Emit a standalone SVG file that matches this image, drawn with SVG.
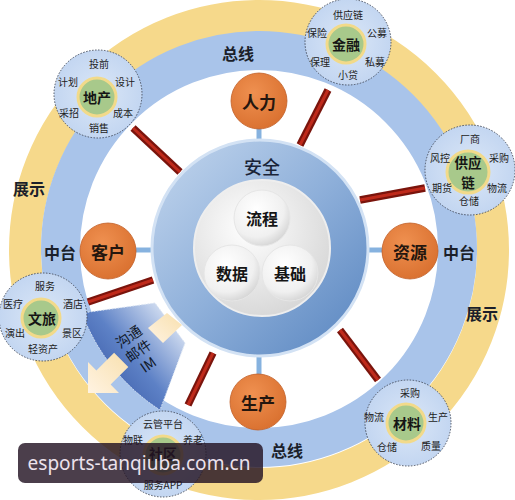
<svg xmlns="http://www.w3.org/2000/svg" width="515" height="500" viewBox="0 0 515 500">
<defs>
<style>
text{font-family:"Noto Sans CJK SC","Noto Sans",sans-serif;text-anchor:middle;dominant-baseline:central;fill:#1b1f2a}
.rl{font-size:16px;font-weight:700}
.sub{font-size:10px;fill:#222}
.nbg{fill:url(#gNode);stroke:#4a5262;stroke-width:1;stroke-dasharray:1.5 1.5}
.ncore{fill:#a8c98b;stroke:#f2da8a;stroke-width:3}
.nt{font-size:14px;font-weight:700;fill:#151515}
.org{fill:url(#gOrange);stroke:#c2612a;stroke-width:0.8}
.ot{font-size:17px;font-weight:700;fill:#24160e}
.so{stroke:#7a140c;stroke-width:7.5}
.si{stroke:#bf2a1b;stroke-width:3}
.lk{stroke:#86b2df;stroke-width:5}
.inner{fill:url(#gInner);stroke:#e6e6e6;stroke-width:1}
.ct{font-size:16px;font-weight:700;fill:#151515}
.pale{fill:url(#gPale)}
</style>
<radialGradient id="gNode" cx="0.5" cy="0.5" r="0.5"><stop offset="0" stop-color="#dbe7f7"/><stop offset="1" stop-color="#c3d6f1"/></radialGradient>
<radialGradient id="gOrange" cx="0.4" cy="0.35" r="0.7"><stop offset="0" stop-color="#ef9050"/><stop offset="1" stop-color="#d9702f"/></radialGradient>
<linearGradient id="gCore" x1="0" y1="0" x2="1" y2="1"><stop offset="0" stop-color="#c4d7ee"/><stop offset="0.5" stop-color="#8fb0da"/><stop offset="1" stop-color="#5784bf"/></linearGradient>
<radialGradient id="gWhite" cx="0.4" cy="0.35" r="0.7"><stop offset="0" stop-color="#ffffff"/><stop offset="1" stop-color="#d6d6d6"/></radialGradient>
<radialGradient id="gInner" cx="0.4" cy="0.35" r="0.7"><stop offset="0" stop-color="#ffffff"/><stop offset="0.7" stop-color="#f0f0f0"/><stop offset="1" stop-color="#d2d2d2"/></radialGradient>
<linearGradient id="gWedge" x1="0.2" y1="0.9" x2="1" y2="0.2"><stop offset="0" stop-color="#3a5aa6"/><stop offset="0.45" stop-color="#5d81c6"/><stop offset="1" stop-color="#dfe8f6"/></linearGradient>
<linearGradient id="gPale" x1="0" y1="1" x2="1" y2="0"><stop offset="0" stop-color="#fff3e2"/><stop offset="1" stop-color="#f8e0ae"/></linearGradient>
</defs>

<g id="rings">
<circle cx="259" cy="250" r="234" fill="none" stroke="#f6d98b" stroke-width="32"/>
<circle cx="259" cy="249" r="198" fill="none" stroke="#a9c4ea" stroke-width="40"/>
<circle cx="259" cy="249" r="177.5" fill="none" stroke="#ffffff" stroke-width="3"/>
</g>

<g id="connectors">
<line class="so" x1="133" y1="128" x2="180" y2="172"/><line class="si" x1="133" y1="128" x2="180" y2="172"/>
<line class="so" x1="328" y1="90" x2="300" y2="145"/><line class="si" x1="328" y1="90" x2="300" y2="145"/>
<line class="so" x1="360" y1="200" x2="425" y2="188"/><line class="si" x1="360" y1="200" x2="425" y2="188"/>
<line class="so" x1="88" y1="302" x2="153" y2="280"/><line class="si" x1="88" y1="302" x2="153" y2="280"/>
<line class="so" x1="340" y1="330" x2="378" y2="380"/><line class="si" x1="340" y1="330" x2="378" y2="380"/>
<line class="so" x1="213" y1="353" x2="188" y2="405"/><line class="si" x1="213" y1="353" x2="188" y2="405"/>
<line class="lk" x1="259" y1="128" x2="259" y2="142"/>
<line class="lk" x1="136" y1="250" x2="154" y2="250"/>
<line class="lk" x1="366" y1="250" x2="382" y2="250"/>
<line class="lk" x1="259" y1="354" x2="259" y2="375"/>
</g>

<g id="core">
<circle cx="260" cy="248" r="108" fill="url(#gCore)" stroke="#d3e2f4" stroke-width="3"/>
<text x="262" y="166" style="font-size:18px;font-weight:500;fill:#1a2438">安全</text>
<circle cx="262" cy="248" r="68" fill="url(#gWhite)" stroke="#eeeeee" stroke-width="2"/>
</g>
<g id="n-liucheng"><circle class="inner" cx="262" cy="218" r="28"/><text class="ct" x="262" y="218">流程</text></g>
<g id="n-shuju"><circle class="inner" cx="232" cy="273" r="28"/><text class="ct" x="232" y="273">数据</text></g>
<g id="n-jichu"><circle class="inner" cx="290" cy="273" r="28"/><text class="ct" x="290" y="273">基础</text></g>

<g id="comm">
<path d="M82,313 L155,303 L185,343 L160,410 A197,197 0 0,1 82,313 Z" fill="url(#gWedge)" stroke="#dbe5f3" stroke-width="1" stroke-dasharray="1.5 1.5"/>
<polygon class="pale" points="148,328 167,313 182,325 163,343"/>
<polygon class="pale" points="88,393 88,362 96.4,370.4 114.1,352.7 128.3,366.9 110.6,384.6 119,393"/>
<g transform="translate(138,350) rotate(-35)" style="font-size:14px">
<text x="0" y="-17" style="fill:#101828">沟通</text>
<text x="0" y="0" style="fill:#101828">邮件</text>
<text x="0" y="17" style="fill:#101828">IM</text>
</g>
</g>

<g id="n-renli"><circle class="org" cx="259" cy="101" r="28"/><text class="ot" x="259" y="101">人力</text></g>
<g id="n-kehu"><circle class="org" cx="108" cy="251" r="28"/><text class="ot" x="108" y="251">客户</text></g>
<g id="n-ziyuan"><circle class="org" cx="410" cy="251" r="28"/><text class="ot" x="410" y="251">资源</text></g>
<g id="n-shengchan"><circle class="org" cx="258" cy="402" r="28"/><text class="ot" x="258" y="402">生产</text></g>

<g id="n-dichan">
<circle class="nbg" cx="98" cy="94" r="44"/><circle class="ncore" cx="97" cy="97" r="19"/>
<text class="nt" x="97" y="97">地产</text>
<text class="sub" x="99" y="63">投前</text><text class="sub" x="68" y="81">计划</text><text class="sub" x="125" y="81">设计</text>
<text class="sub" x="69" y="112">采招</text><text class="sub" x="123" y="112">成本</text><text class="sub" x="99" y="127">销售</text>
</g>
<g id="n-jinrong">
<circle class="nbg" cx="348" cy="42" r="43"/><circle class="ncore" cx="346" cy="44" r="19"/>
<text class="nt" x="346" y="44">金融</text>
<text class="sub" x="348" y="14">供应链</text><text class="sub" x="317" y="32">保险</text><text class="sub" x="377" y="32">公募</text>
<text class="sub" x="320" y="61">保理</text><text class="sub" x="375" y="61">私募</text><text class="sub" x="348" y="74">小贷</text>
</g>
<g id="n-gongyinglian">
<circle class="nbg" cx="470" cy="170" r="45"/><circle class="ncore" cx="468" cy="172" r="21"/>
<text class="nt" x="468" y="162" style="font-size:13.5px">供应</text><text class="nt" x="468" y="182" style="font-size:13.5px">链</text>
<text class="sub" x="470" y="138">厂商</text><text class="sub" x="440" y="157">风控</text><text class="sub" x="499" y="157">采购</text>
<text class="sub" x="442" y="187">期货</text><text class="sub" x="497" y="187">物流</text><text class="sub" x="469" y="200">仓储</text>
</g>
<g id="n-wenlv">
<circle class="nbg" cx="43" cy="317" r="44"/><circle class="ncore" cx="41" cy="318" r="19"/>
<text class="nt" x="42" y="318">文旅</text>
<text class="sub" x="45" y="285">服务</text><text class="sub" x="13" y="303">医疗</text><text class="sub" x="73" y="303">酒店</text>
<text class="sub" x="15" y="332">演出</text><text class="sub" x="72" y="332">景区</text><text class="sub" x="43" y="348">轻资产</text>
</g>
<g id="n-cailiao">
<circle class="nbg" cx="408" cy="423" r="43"/><circle class="ncore" cx="406" cy="423" r="19"/>
<text class="nt" x="407" y="423">材料</text>
<text class="sub" x="410" y="392">采购</text><text class="sub" x="374" y="416">物流</text><text class="sub" x="438" y="416">生产</text>
<text class="sub" x="387" y="446">仓储</text><text class="sub" x="431" y="445">质量</text>
</g>
<g id="n-shequ">
<circle class="nbg" cx="163" cy="454" r="43"/><circle class="ncore" cx="163" cy="455" r="19"/>
<text class="nt" x="163" y="453">社区</text>
<text class="sub" x="163" y="423">云管平台</text><text class="sub" x="133" y="439">物联</text><text class="sub" x="193" y="439">养老</text>
<text class="sub" x="163" y="484">服务APP</text>
</g>

<g id="ring-labels">
<text class="rl" x="238" y="53">总线</text>
<text class="rl" x="287" y="450">总线</text>
<text class="rl" x="60" y="252">中台</text>
<text class="rl" x="459" y="252">中台</text>
<text class="rl" x="29" y="188">展示</text>
<text class="rl" x="482" y="313">展示</text>
</g>

<g id="watermark">
<rect x="18" y="443" width="245" height="40" rx="7" fill="rgb(35,20,35)" fill-opacity="0.82"/>
<text x="139" y="463" textLength="223" lengthAdjust="spacingAndGlyphs" style="font-family:'Noto Sans','DejaVu Sans',sans-serif;font-size:19px;fill:#ece2ec">esports-tanqiuba.com.cn</text>
</g>
</svg>
